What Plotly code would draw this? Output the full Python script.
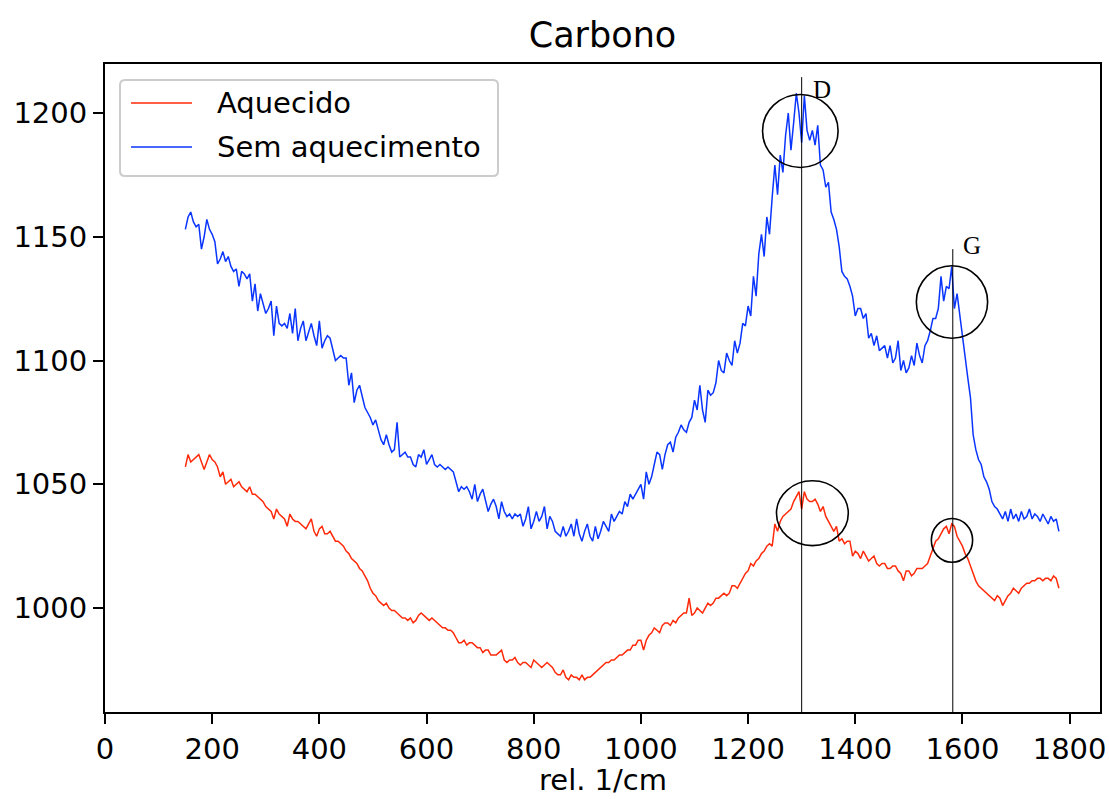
import plotly.graph_objects as go

# ---------------- data ----------------
x_start = 150
x_step = 5

sem_aquecimento = [
    1153, 1158, 1160, 1156, 1154, 1155, 1145, 1150, 1157, 1153,
    1151, 1148, 1139, 1141, 1144, 1140, 1142, 1138, 1136, 1137,
    1130, 1136, 1135, 1133, 1135, 1124, 1131, 1120, 1127, 1123,
    1119, 1121, 1124, 1110, 1122, 1115, 1114, 1115, 1113, 1119,
    1111, 1121, 1108, 1113, 1116, 1108, 1112, 1115, 1110, 1106,
    1116, 1105, 1108, 1110, 1109, 1104, 1100, 1101, 1102, 1101,
    1101, 1090, 1095, 1083, 1088, 1090, 1085, 1081, 1079, 1077,
    1074, 1076, 1072, 1068, 1066, 1070, 1066, 1063, 1064, 1075,
    1061, 1062, 1063, 1061, 1061, 1058, 1057, 1062, 1061, 1064,
    1058, 1060, 1062, 1058, 1057, 1058, 1057, 1056, 1057, 1056,
    1055, 1051, 1047, 1049, 1048, 1049, 1047, 1044, 1050, 1043,
    1046, 1048, 1043, 1039, 1042, 1044, 1041, 1036, 1043, 1039,
    1037, 1038, 1036, 1038, 1037, 1038, 1033, 1036, 1041, 1032,
    1035, 1039, 1035, 1037, 1041, 1032, 1037, 1035, 1031, 1030,
    1029, 1033, 1029, 1031, 1034, 1029, 1036, 1030, 1027, 1031,
    1034, 1029, 1027, 1033, 1028, 1031, 1035, 1033, 1031, 1038,
    1035, 1037, 1039, 1038, 1043, 1041, 1046, 1044, 1046, 1048,
    1050, 1044, 1055, 1050, 1053, 1058, 1063, 1062, 1056, 1062,
    1066, 1067, 1063, 1069, 1071, 1074, 1072, 1071, 1075, 1077,
    1084, 1080, 1090, 1080, 1075, 1088, 1086, 1087, 1091, 1100,
    1096, 1095, 1103, 1100, 1098, 1108, 1103, 1107, 1115, 1114,
    1122, 1118, 1134, 1126, 1143, 1151, 1142, 1158, 1151, 1166,
    1179, 1167, 1183, 1176, 1191, 1200, 1185, 1196, 1208, 1200,
    1188, 1207, 1193, 1189, 1193, 1187, 1195, 1179, 1177, 1170,
    1172, 1160, 1157, 1153, 1146, 1136, 1134, 1133, 1130, 1126,
    1118, 1121, 1121, 1117, 1119, 1109, 1111, 1106, 1110, 1104,
    1105, 1106, 1101, 1106, 1099, 1101, 1108, 1096, 1100, 1095,
    1097, 1102, 1098, 1107, 1102, 1099, 1106, 1108, 1112, 1117,
    1117, 1121, 1134, 1124, 1130, 1129, 1138, 1121, 1127, 1118,
    1109, 1100, 1093, 1085, 1070, 1064, 1060, 1058, 1053, 1051,
    1048, 1043, 1041, 1040, 1038, 1036, 1039, 1035, 1040, 1036,
    1038, 1035, 1039, 1036, 1037, 1040, 1036, 1038, 1037, 1035,
    1038, 1036, 1034, 1037, 1035, 1036, 1031,
]

aquecido = [
    1057, 1062, 1059, 1060, 1061, 1062, 1059, 1056, 1059, 1062,
    1060, 1059, 1057, 1053, 1055, 1050, 1051, 1052, 1049, 1050,
    1051, 1049, 1048, 1047, 1049, 1046, 1046, 1045, 1044, 1043,
    1041, 1040, 1039, 1036, 1040, 1038, 1037, 1036, 1033, 1038,
    1036, 1035, 1035, 1034, 1033, 1032, 1034, 1036, 1031, 1029,
    1032, 1033, 1030, 1030, 1031, 1029, 1027, 1027, 1026, 1025,
    1023, 1022, 1020, 1019, 1018, 1016, 1015, 1013, 1011, 1008,
    1006, 1005, 1003, 1002, 1001, 1002, 1000, 999, 999, 998,
    997, 996, 996, 995, 996, 994, 995, 997, 998, 997,
    996, 995, 996, 995, 994, 993, 992, 992, 991, 991,
    990, 988, 986, 986, 987, 985, 986, 986, 985, 984,
    984, 982, 983, 983, 981, 981, 981, 982, 983, 979,
    978, 979, 979, 980, 978, 977, 978, 978, 977, 976,
    979, 978, 977, 976, 977, 978, 977, 976, 974, 973,
    973, 975, 972, 971, 973, 972, 972, 971, 973, 971,
    972, 972, 973, 974, 975, 976, 977, 978, 978, 979,
    979, 980, 981, 981, 982, 983, 983, 985, 985, 987,
    987, 983, 987, 989, 990, 992, 991, 990, 993, 994,
    994, 993, 995, 994, 996, 997, 998, 998, 1004, 997,
    998, 1000, 999, 998, 1000, 1002, 1001, 1002, 1004, 1004,
    1005, 1006, 1005, 1006, 1009, 1009, 1008, 1010, 1012, 1014,
    1015, 1018, 1017, 1019, 1020, 1022, 1023, 1025, 1026, 1025,
    1034, 1031, 1035, 1037, 1038, 1039, 1040, 1043, 1045, 1047,
    1040, 1047, 1044, 1043, 1043, 1044, 1042, 1039, 1041, 1037,
    1035, 1033, 1031, 1033, 1027, 1028, 1026, 1027, 1027, 1021,
    1023, 1022, 1020, 1023, 1021, 1019, 1020, 1021, 1018, 1017,
    1018, 1018, 1016, 1016, 1017, 1017, 1015, 1014, 1011, 1015,
    1015, 1013, 1014, 1016, 1016, 1016, 1017, 1018, 1021, 1024,
    1027, 1028, 1030, 1032, 1033, 1030, 1034, 1033, 1029, 1027,
    1025, 1022, 1020, 1017, 1014, 1011, 1009, 1008, 1007, 1006,
    1005, 1004, 1003, 1005, 1004, 1001, 1003, 1005, 1006, 1008,
    1007, 1006, 1008, 1009, 1010, 1010, 1011, 1011, 1012, 1012,
    1011, 1012, 1012, 1011, 1013, 1012, 1008,
]

x_ticks = [0, 200, 400, 600, 800, 1000, 1200, 1400, 1600, 1800]
y_ticks = [1000, 1050, 1100, 1150, 1200]

peak_names = ["D", "G"]
peak_positions = [1300, 1582]
peak_line_tops = [1214.5, 1145]
peak_label_xy = [(1338, 1209.5), (1617, 1146.5)]

# ellipse marks (x0, x1, y0, y1) in data units
marks = [
    (1227, 1368, 1178, 1207.5),   # blue D
    (1514, 1647, 1109, 1138.3),   # blue G
    (1253, 1387, 1025.2, 1051.4), # red D
    (1542, 1619, 1018.5, 1036.2), # red G
]

X_RANGE = [0, 1856.7]
Y_RANGE = [958.0, 1219.8]

RED = "#ff2a0a"
BLUE = "#0a35ff"

# ---------------- figure ----------------
W, H = 1109, 799
ML, MR, MT, MB = 105, 9, 64, 87
PW, PH = W - ML - MR, H - MT - MB

def px2paper(px, py):
    return (px - ML) / PW, (H - MB - py) / PH

xa = [x_start + x_step * i for i in range(len(aquecido))]
xb = [x_start + x_step * i for i in range(len(sem_aquecimento))]

fig = go.Figure()
fig.add_trace(go.Scatter(x=xa, y=aquecido, mode="lines", name="Aquecido",
                         line=dict(color=RED, width=1.5), showlegend=False))
fig.add_trace(go.Scatter(x=xb, y=sem_aquecimento, mode="lines", name="Sem aquecimento",
                         line=dict(color=BLUE, width=1.5), showlegend=False))

shapes = []
for (x0, x1, y0, y1) in marks:
    shapes.append(dict(type="circle", xref="x", yref="y", x0=x0, x1=x1, y0=y0, y1=y1,
                       line=dict(color="black", width=1.6)))
for xp, top in zip(peak_positions, peak_line_tops):
    shapes.append(dict(type="line", xref="x", yref="y", x0=xp, x1=xp, y0=Y_RANGE[0], y1=top,
                       line=dict(color="black", width=1)))

annotations = []
for name, (lx, ly) in zip(peak_names, peak_label_xy):
    annotations.append(dict(x=lx, y=ly, xref="x", yref="y", text=name, showarrow=False,
                            xanchor="center", yanchor="middle",
                            font=dict(family="Liberation Serif", size=25, color="black")))

# manual legend (matplotlib style)
bx0, by0, bx1, by1, r = 120, 80, 498, 176, 5
def P(px, py):
    a, b = px2paper(px, py)
    return f"{a:.5f},{b:.5f}"
path = (f"M{P(bx0 + r, by0)} L{P(bx1 - r, by0)} Q{P(bx1, by0)} {P(bx1, by0 + r)} "
        f"L{P(bx1, by1 - r)} Q{P(bx1, by1)} {P(bx1 - r, by1)} "
        f"L{P(bx0 + r, by1)} Q{P(bx0, by1)} {P(bx0, by1 - r)} "
        f"L{P(bx0, by0 + r)} Q{P(bx0, by0)} {P(bx0 + r, by0)} Z")
shapes.append(dict(type="path", xref="paper", yref="paper", path=path,
                   fillcolor="rgba(255,255,255,0.8)", line=dict(color="#cccccc", width=2)))
legend_entries = [("Aquecido", RED, 103), ("Sem aquecimento", BLUE, 147)]
for label, col, py in legend_entries:
    a0, b0 = px2paper(131, py)
    a1, _ = px2paper(192, py)
    shapes.append(dict(type="line", xref="paper", yref="paper", x0=a0, x1=a1, y0=b0, y1=b0,
                       line=dict(color=col, width=1.5)))
    ta, tb = px2paper(215, py)
    annotations.append(dict(x=ta, y=tb, xref="paper", yref="paper", text=label,
                            showarrow=False, xanchor="left", yanchor="middle",
                            font=dict(family="DejaVu Sans", size=29, color="black")))

# x-axis title placed like matplotlib's xlabel
_, xt_b = px2paper(ML + PW / 2, 780)
annotations.append(dict(x=0.5, y=xt_b, xref="paper", yref="paper", text="rel. 1/cm",
                        showarrow=False, xanchor="center", yanchor="middle", borderpad=0,
                        font=dict(family="DejaVu Sans", size=29, color="black")))

fig.update_layout(
    width=W, height=H,
    margin=dict(l=ML, r=MR, t=MT, b=MB, autoexpand=False),
    paper_bgcolor="white", plot_bgcolor="white",
    font=dict(family="DejaVu Sans", size=29, color="black"),
    title=dict(text="Carbono", x=0.5 * (ML + W - MR) / W, xanchor="center",
               y=1 - 35 / H, yanchor="middle", yref="container",
               font=dict(family="DejaVu Sans", size=35, color="black")),
    shapes=shapes, annotations=annotations,
    showlegend=False,
)
fig.update_xaxes(range=X_RANGE, tickvals=x_ticks, ticktext=[str(v) for v in x_ticks],
                 automargin=False,
                 showgrid=False, zeroline=False, showline=True, mirror=True,
                 linecolor="black", linewidth=2, ticks="outside", ticklen=10, tickwidth=2,
                 tickcolor="black", tickfont=dict(size=29, family="DejaVu Sans"))
fig.update_yaxes(range=Y_RANGE, tickvals=y_ticks, ticktext=[str(v) for v in y_ticks],
                 automargin=False,
                 showgrid=False, zeroline=False, showline=True, mirror=True,
                 linecolor="black", linewidth=2, ticks="outside", ticklen=10, tickwidth=2,
                 tickcolor="black", tickfont=dict(size=29, family="DejaVu Sans"))

fig.write_html("out.html")
